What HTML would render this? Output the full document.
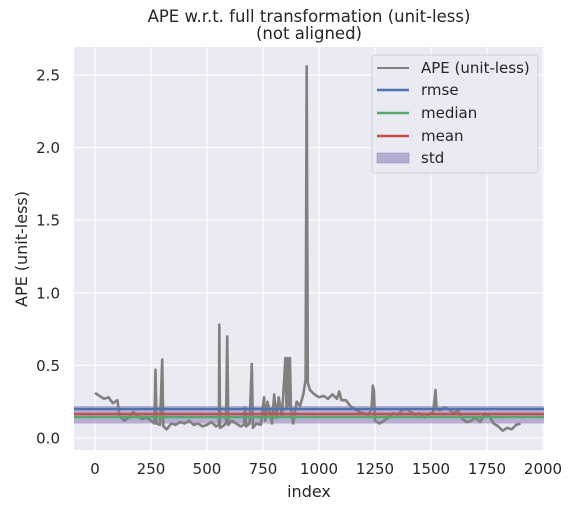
<!DOCTYPE html>
<html><head><meta charset="utf-8"><style>
body{margin:0;background:#fff;}
svg{display:block;font-family:"DejaVu Sans","Liberation Sans",sans-serif;}
</style></head><body>
<svg id="chart" width="578" height="508">
<rect x="74" y="47" width="470" height="403" fill="#eaeaf2"/>
<g id="grid"></g>
<g id="bands"></g>
<g id="series"></g>
<g id="ticks"></g>
<text x="309" y="22" text-anchor="middle" font-size="16.5" fill="#262626">APE w.r.t. full transformation (unit-less)</text>
<text x="309" y="39" text-anchor="middle" font-size="16.5" fill="#262626">(not aligned)</text>
<text x="309" y="497" text-anchor="middle" font-size="16" fill="#262626">index</text>
<text x="27" y="249" text-anchor="middle" font-size="16" fill="#262626" transform="rotate(-90 27 249)">APE (unit-less)</text>
<g>
<rect x="372" y="55" width="166" height="118" rx="3" fill="#eaeaf2" fill-opacity="0.8" stroke="#d0d0d8"/>
<line x1="377" y1="68" x2="409" y2="68" stroke="#808080" stroke-width="2"/>
<text x="421" y="73" font-size="15" fill="#262626">APE (unit-less)</text>
<line x1="377" y1="90" x2="409" y2="90" stroke="#4c72b0" stroke-width="2.5"/>
<text x="421" y="95" font-size="15" fill="#262626">rmse</text>
<line x1="377" y1="113" x2="409" y2="113" stroke="#55a868" stroke-width="2.5"/>
<text x="421" y="118" font-size="15" fill="#262626">median</text>
<line x1="377" y1="136" x2="409" y2="136" stroke="#c44e52" stroke-width="2.5"/>
<text x="421" y="141" font-size="15" fill="#262626">mean</text>
<rect x="377" y="153" width="32" height="10" fill="#8172b2" fill-opacity="0.5" stroke="#8172b2" stroke-opacity="0.4"/>
<text x="421" y="163" font-size="15" fill="#262626">std</text>
</g>
</svg>
<script>
const xTicks=[0,250,500,750,1000,1250,1500,1750,2000];
const yTicks=[0.0,0.5,1.0,1.5,2.0,2.5];
const yTickLabels=["0.0","0.5","1.0","1.5","2.0","2.5"];
const idx=[0,20,40,60,80,100,110,130,150,170,190,210,230,250,265,270,275,290,300,305,320,340,360,380,400,420,440,460,480,500,520,540,553,555,558,570,585,590,595,610,630,650,665,670,675,690,700,705,720,740,755,760,770,790,800,810,820,835,850,855,860,865,870,875,885,900,915,930,940,945,950,960,980,1000,1020,1040,1060,1080,1090,1100,1120,1140,1160,1180,1200,1220,1235,1240,1245,1250,1270,1290,1310,1330,1350,1370,1390,1410,1430,1450,1470,1490,1510,1520,1525,1540,1560,1580,1600,1620,1640,1660,1680,1700,1720,1740,1760,1780,1800,1820,1840,1860,1880,1900];
const ape=[0.31,0.29,0.27,0.28,0.24,0.26,0.15,0.12,0.14,0.18,0.15,0.13,0.14,0.12,0.10,0.47,0.10,0.09,0.54,0.08,0.06,0.10,0.09,0.11,0.10,0.12,0.09,0.10,0.08,0.09,0.11,0.08,0.09,0.78,0.07,0.08,0.10,0.70,0.09,0.12,0.10,0.08,0.09,0.21,0.08,0.10,0.51,0.07,0.10,0.09,0.28,0.12,0.25,0.10,0.30,0.14,0.28,0.15,0.55,0.20,0.55,0.22,0.55,0.20,0.10,0.25,0.22,0.30,0.40,2.56,0.38,0.33,0.30,0.28,0.29,0.27,0.30,0.27,0.32,0.26,0.26,0.22,0.20,0.18,0.17,0.16,0.20,0.36,0.33,0.12,0.10,0.12,0.14,0.17,0.16,0.19,0.20,0.18,0.16,0.17,0.14,0.16,0.18,0.33,0.20,0.19,0.21,0.20,0.17,0.19,0.13,0.11,0.12,0.14,0.11,0.17,0.15,0.10,0.08,0.05,0.07,0.06,0.09,0.10];
const stats=[0.20,0.145,0.165]; // rmse, median, mean
const stdBand=[0.10,0.22];
const X=v=>95+v*0.224;
const Y=v=>438-v*145.2;
const NS="http://www.w3.org/2000/svg";
function mk(tag,attrs,parent){const e=document.createElementNS(NS,tag);for(const k in attrs)e.setAttribute(k,attrs[k]);document.getElementById(parent).appendChild(e);return e;}
xTicks.forEach(t=>{
 const l=mk('line',{x1:X(t),x2:X(t),y1:47,y2:450,stroke:'#fff','stroke-width':1.2},'grid');
 
 
 const tx=mk('text',{x:X(t),y:474,'text-anchor':'middle','font-size':15,fill:'#262626'},'ticks');
 tx.textContent=String(t);
 
 
});
yTicks.forEach((t,i)=>{
 const l=mk('line',{x1:74,x2:544,y1:Y(t),y2:Y(t),stroke:'#fff','stroke-width':1.2},'grid');
 
 
 const tx=mk('text',{x:60,y:Y(t)+5.5,'text-anchor':'end','font-size':15,fill:'#262626'},'ticks');
 tx.textContent=yTickLabels[i];
 
 
});
const band=mk('rect',{x:74,width:470,y:Y(stdBand[1]),height:Y(stdBand[0])-Y(stdBand[1]),fill:'#8172b2','fill-opacity':0.5},'bands');


const pts=idx.map((v,i)=>X(v).toFixed(1)+','+Y(ape[i]).toFixed(1)).join(' ');
const pl=mk('polyline',{points:pts,fill:'none',stroke:'#808080','stroke-width':2.6,'stroke-linejoin':'round'},'series');


const cols=['#4c72b0','#55a868','#c44e52'];const names=['rmse-line','median-line','mean-line'];
stats.forEach((s,i)=>{
 const l=mk('line',{x1:74,x2:544,y1:Y(s),y2:Y(s),stroke:cols[i],'stroke-width':2.5},'series');
 
 
});
</script>
</body></html>
